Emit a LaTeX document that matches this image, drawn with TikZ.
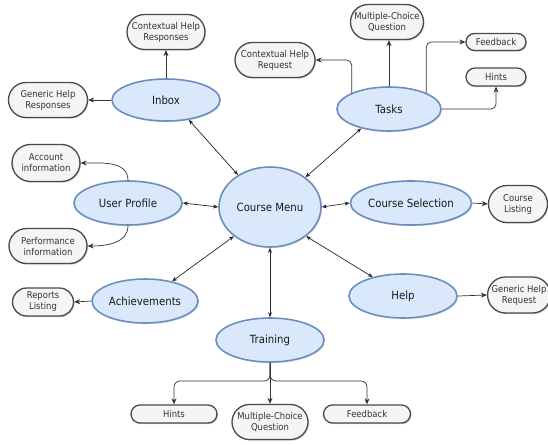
\documentclass[tikz,border=0pt]{standalone}
\usepackage{fontspec}
\setmainfont{DejaVu Sans}[FakeStretch=0.9]
\usetikzlibrary{shapes.geometric,shapes.misc,arrows.meta,shadows}
\definecolor{ellfill}{HTML}{DAE8FC}
\definecolor{elldraw}{HTML}{6C8EBF}
\definecolor{pillfill}{HTML}{F5F5F5}
\definecolor{pilldraw}{HTML}{4A4A4A}
\definecolor{pilltext}{HTML}{333333}
\tikzset{
  ell/.style={ellipse, draw=elldraw, fill=ellfill, line width=1.6pt, inner sep=0pt,
    minimum width=108pt, minimum height=44pt, font=\fontsize{11.3}{13}\selectfont, text=black!90,
    drop shadow={shadow xshift=1pt, shadow yshift=-1.2pt, opacity=0.25}},
  pill/.style={rounded rectangle, draw=pilldraw, fill=pillfill, line width=1.3pt, inner sep=1pt,
    minimum width=80pt, minimum height=35pt, align=center, font=\fontsize{9.4}{11}\selectfont, text=pilltext,
    drop shadow={shadow xshift=1pt, shadow yshift=-1.2pt, opacity=0.35}},
  link/.style={-{Stealth[length=6pt,width=5pt]}, line width=0.7pt, draw=black!80},
  blink/.style={{Stealth[length=5pt,width=4pt]}-{Stealth[length=5pt,width=4pt]}, line width=0.7pt, draw=black!85},
}
\begin{document}
\begin{tikzpicture}[x=1pt,y=-1pt]
\useasboundingbox (0,0) rectangle (548,444);
\fill[white] (0,0) rectangle (548,444);
% ellipses
\node[ell, minimum width=102pt, minimum height=80pt] (cm) at (270,207) {Course Menu};
\node[ell, minimum height=42pt] (inbox) at (166,100) {Inbox};
\node[ell, minimum width=104pt] (tasks) at (389,109) {Tasks};
\node[ell] (up) at (128,203) {User Profile};
\node[ell, minimum width=107pt] (cs) at (411,203) {Course Selection};
\node[ell, minimum width=106pt] (ach) at (145,301) {Achievements};
\node[ell] (help) at (403,296) {Help};
\node[ell] (tr) at (270,340) {Training};
% pills
\node[pill] (chresp) at (166,32) {Contextual Help\\Responses};
\node[pill, minimum width=81pt] (ghresp) at (48,100) {Generic Help\\Responses};
\node[pill, minimum width=82pt] (chreq) at (275,60) {Contextual Help\\Request};
\node[pill, minimum width=75pt] (mcq1) at (387,22) {Multiple-Choice\\Question};
\node[pill, minimum width=62pt, minimum height=17pt] (fb1) at (496,42) {Feedback};
\node[pill, minimum width=62pt, minimum height=18pt] (hints1) at (496,77) {Hints};
\node[pill, minimum width=70pt, minimum height=37pt] (acc) at (46,163) {Account\\information};
\node[pill, minimum width=80pt] (perf) at (48,246) {Performance\\information};
\node[pill, minimum width=61pt, minimum height=37pt] (cl) at (518,204) {Course\\Listing};
\node[pill, minimum width=62pt, minimum height=36pt] (ghreq) at (519,295) {Generic Help\\Request};
\node[pill, minimum width=63pt, minimum height=28pt] (rl) at (43,302) {Reports\\Listing};
\node[pill, minimum width=88pt, minimum height=18pt] (hints2) at (174,414) {Hints};
\node[pill, minimum width=78pt] (mcq2) at (270,422) {Multiple-Choice\\Question};
\node[pill, minimum width=89pt, minimum height=18pt] (fb2) at (367,414) {Feedback};
% central links
\draw[blink] (inbox.-41) -- (cm.135);
\draw[blink] (tasks.-145) -- (cm.40);
\draw[blink] (up.east) -- (cm.west);
\draw[blink] (cm.east) -- (cs.west);
\draw[blink] (cm.-141) -- (ach.36);
\draw[blink] (cm.-39) -- (help.148);
\draw[blink] (cm.south) -- (tr.north);
% inbox
\draw[link] (inbox.north) -- (chresp.south);
\draw[link] (inbox.west) -- (ghresp.east);
% tasks
\draw[link, rounded corners=5pt] (tasks.north west) |- (chreq.east);
\draw[link] (tasks.north) -- (tasks.north |- mcq1.south);
\draw[link, rounded corners=5pt] (tasks.north east) |- (fb1.west);
\draw[link, rounded corners=5pt] (tasks.east) -| (hints1.south);
% user profile
\draw[link] (up.north) to[out=90, in=0] (acc.east);
\draw[link] (up.south) to[out=-90, in=0] (perf.east);
% others
\draw[link] (cs.east) -- (cl.west);
\draw[link] (ach.west) -- (rl.east);
\draw[link] (help.east) -- (ghreq.west);
% training
\coordinate (tj) at (270,381);
\draw[link, rounded corners=6pt] (tr.south) -- (tj) -| (hints2.north);
\draw[link] (tr.south) -- (mcq2.north);
\draw[link, rounded corners=6pt] (tr.south) -- (tj) -| (fb2.north);
\end{tikzpicture}
\end{document}
